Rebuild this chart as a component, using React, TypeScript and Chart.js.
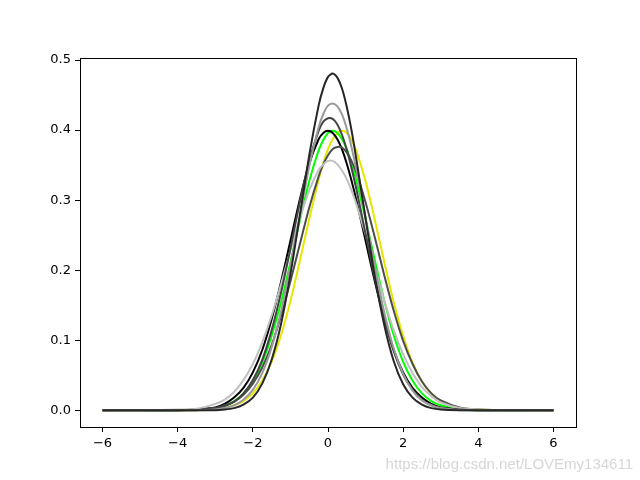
import React, { useEffect, useRef } from "react";
import { Chart, registerables } from "chart.js";

Chart.register(...registerables);

const xs = [-6, -5, -4, -3.5, -3, -2.75, -2.5, -2.25, -2, -1.75, -1.5, -1.25, -1, -0.75, -0.5, -0.25, -0.125, 0, 0.125, 0.25, 0.375, 0.5, 0.625, 0.75, 1, 1.25, 1.5, 1.75, 2, 2.25, 2.5, 2.75, 3, 3.5, 4, 5, 6];

const curveA = [0, 0, 0, 0, 0, 0.001, 0.003, 0.008, 0.018, 0.038, 0.072, 0.123, 0.194, 0.278, 0.364, 0.435, 0.46, 0.476, 0.481, 0.475, 0.459, 0.433, 0.4, 0.36, 0.274, 0.19, 0.121, 0.07, 0.037, 0.018, 0.008, 0.003, 0.001, 0, 0, 0, 0];
const curveB = [0, 0, 0, 0, 0.001, 0.003, 0.007, 0.015, 0.029, 0.053, 0.09, 0.141, 0.206, 0.278, 0.348, 0.404, 0.423, 0.435, 0.438, 0.434, 0.422, 0.402, 0.376, 0.345, 0.275, 0.203, 0.139, 0.088, 0.052, 0.028, 0.014, 0.007, 0.003, 0, 0, 0, 0];
const curveC = [0, 0, 0, 0, 0.003, 0.006, 0.012, 0.024, 0.043, 0.072, 0.114, 0.168, 0.231, 0.297, 0.356, 0.399, 0.412, 0.417, 0.416, 0.408, 0.393, 0.372, 0.346, 0.317, 0.252, 0.187, 0.13, 0.084, 0.051, 0.029, 0.015, 0.007, 0.003, 0.001, 0, 0, 0];
const curveD = [0, 0, 0, 0.001, 0.004, 0.009, 0.018, 0.032, 0.054, 0.086, 0.13, 0.183, 0.242, 0.301, 0.352, 0.387, 0.396, 0.399, 0.396, 0.387, 0.372, 0.352, 0.328, 0.301, 0.242, 0.183, 0.13, 0.086, 0.054, 0.032, 0.018, 0.009, 0.004, 0.001, 0, 0, 0];
const curveE = [0, 0, 0, 0.001, 0.003, 0.006, 0.013, 0.024, 0.041, 0.068, 0.106, 0.154, 0.211, 0.271, 0.327, 0.371, 0.386, 0.396, 0.399, 0.396, 0.387, 0.373, 0.353, 0.329, 0.273, 0.213, 0.156, 0.107, 0.069, 0.042, 0.024, 0.013, 0.007, 0.001, 0, 0, 0];
const curveF = [0, 0, 0, 0, 0.001, 0.003, 0.007, 0.013, 0.024, 0.042, 0.069, 0.107, 0.156, 0.213, 0.273, 0.329, 0.353, 0.373, 0.387, 0.396, 0.399, 0.396, 0.386, 0.371, 0.327, 0.271, 0.211, 0.154, 0.106, 0.068, 0.041, 0.024, 0.013, 0.003, 0.001, 0, 0];
const curveG = [0, 0, 0, 0.001, 0.003, 0.007, 0.012, 0.022, 0.038, 0.061, 0.093, 0.135, 0.184, 0.237, 0.289, 0.334, 0.351, 0.364, 0.373, 0.376, 0.375, 0.368, 0.356, 0.34, 0.297, 0.246, 0.192, 0.142, 0.099, 0.066, 0.041, 0.024, 0.014, 0.004, 0.001, 0, 0];
const curveH = [0, 0, 0.001, 0.002, 0.009, 0.015, 0.026, 0.043, 0.066, 0.097, 0.135, 0.18, 0.228, 0.274, 0.314, 0.343, 0.351, 0.356, 0.356, 0.351, 0.342, 0.33, 0.314, 0.295, 0.251, 0.203, 0.156, 0.114, 0.08, 0.053, 0.033, 0.02, 0.011, 0.003, 0.001, 0, 0];

const series = [curveA, curveB, curveC, curveH, curveG, curveD, curveE, curveF];
const colors = ["#262626", "#999999", "#444444", "#c0c0c0", "#4d4d4d", "#000000", "#00ff00", "#e6e600"];

const xTicks = [-6, -4, -2, 0, 2, 4, 6];
const yTicks = [0, 0.1, 0.2, 0.3, 0.4, 0.5];
const watermark = "https://blog.csdn.net/LOVEmy134611";

const fmtX = (v: number) => (v < 0 ? "\u2212" + Math.abs(v) : String(v));

export default function App() {
  const ref = useRef<HTMLCanvasElement | null>(null);
  useEffect(() => {
    document.body.style.margin = "0";
    const canvas = ref.current;
    if (!canvas) return;
    const framePlugin = {
      id: "frame",
      afterDatasetsDraw(chart: any) {
        const { ctx, chartArea } = chart;
        ctx.save();
        ctx.strokeStyle = "#000";
        ctx.lineWidth = 1;
        ctx.strokeRect(
          Math.round(chartArea.left) + 0.5,
          Math.round(chartArea.top) + 0.5,
          Math.round(chartArea.right - chartArea.left),
          Math.round(chartArea.bottom - chartArea.top)
        );
        ctx.restore();
      },
      afterDraw(chart: any) {
        const { ctx } = chart;
        ctx.save();
        ctx.font = "15px 'Liberation Sans', Arial, sans-serif";
        ctx.textAlign = "right";
        ctx.textBaseline = "alphabetic";
        ctx.fillStyle = "rgba(210,210,210,0.9)";
        ctx.fillText(watermark, 633, 469);
        ctx.restore();
      },
    };
    const chart = new Chart(canvas, {
      type: "line",
      data: {
        datasets: series.map((s, i) => ({
          data: xs.map((x, j) => ({ x, y: s[j] })),
          borderColor: colors[i],
          backgroundColor: colors[i],
          borderWidth: 2,
          pointRadius: 0,
          fill: false,
          tension: 0.25,
        })),
      },
      options: {
        animation: false,
        responsive: false,
        maintainAspectRatio: false,
        layout: { padding: { left: 0, right: 64, top: 58, bottom: 0 } },
        plugins: { legend: { display: false }, tooltip: { enabled: false } },
        scales: {
          x: {
            type: "linear",
            min: -6.6,
            max: 6.6,
            afterBuildTicks: (scale: any) => {
              scale.ticks = xTicks.map((v) => ({ value: v }));
            },
            afterFit: (scale: any) => {
              scale.height = 53;
            },
            grid: { drawOnChartArea: false, drawTicks: true, tickLength: 5, color: "#000" },
            border: { display: true, color: "#000", width: 1 },
            ticks: {
              color: "#000",
              padding: 4,
              maxRotation: 0,
              autoSkip: false,
              font: { family: "'DejaVu Sans'", size: 13 },
              callback: (v: any) => fmtX(Number(v)),
            },
          },
          y: {
            type: "linear",
            min: -0.024,
            max: 0.503,
            afterBuildTicks: (scale: any) => {
              scale.ticks = yTicks.map((v) => ({ value: v }));
            },
            afterFit: (scale: any) => {
              scale.width = 80;
            },
            grid: { drawOnChartArea: false, drawTicks: true, tickLength: 5, color: "#000" },
            border: { display: true, color: "#000", width: 1 },
            ticks: {
              color: "#000",
              padding: 4,
              autoSkip: false,
              font: { family: "'DejaVu Sans'", size: 13 },
              callback: (v: any) => Number(v).toFixed(1),
            },
          },
        },
      },
      plugins: [framePlugin],
    } as any);
    return () => chart.destroy();
  }, []);
  return (
    <div style={{ width: 640, height: 480 }}>
      <canvas ref={ref} width={640} height={480} style={{ display: "block", width: 640, height: 480 }} />
    </div>
  );
}
